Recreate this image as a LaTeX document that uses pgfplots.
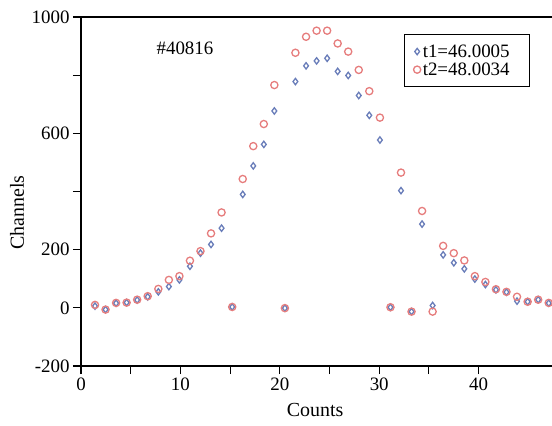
\documentclass[border=0pt]{standalone}
\usepackage{pgfplots}
\pgfplotsset{compat=1.18}
\usepackage{pgfplotstable}
\usepackage{fontspec}
\setmainfont{Liberation Serif}
\definecolor{sblue}{RGB}{105,125,185}
\definecolor{sred}{RGB}{230,125,125}
\pgfplotstableread{
x blue red
1.41 6 10
2.47 -6 -6
3.53 16 17
4.59 18 18
5.65 27 28
6.71 38 40
7.78 55 65
8.84 73 96
9.90 96 109
10.96 143 162
12.02 188 195
13.08 218 256
14.14 274 328
15.21 3 3
16.27 390 443
17.33 488 556
18.39 562 632
19.45 677 766
20.51 -1 -1
21.57 778 877
22.64 832 932
23.70 849 953
24.76 858 953
25.82 813 909
26.88 799 881
27.94 730 818
29.00 662 745
30.07 577 654
31.13 2 2
32.19 403 465
33.25 -13 -13
34.31 288 333
35.37 8 -13
36.43 182 213
37.50 155 188
38.56 134 163
39.62 99 109
40.68 80 89
41.74 62 64
42.80 54 55
43.86 23 38
44.93 21 21
45.99 28 28
47.05 16 17
}\datatable
\begin{document}
\begin{tikzpicture}
\begin{axis}[
  at={(0,0)}, anchor=south west,
  scale only axis,
  width=471bp, height=349bp,
  xmin=0, xmax=47.38,
  ymin=-200, ymax=1000,
  axis x line*=bottom, axis y line*=left,
  axis line style={line width=1.1bp, black},
  tick align=outside,
  major tick length=8bp,
  tick style={line width=1.1bp, black},
  xtick={0,5,...,40},
  xticklabels={0,,10,,20,,30,,40},
  ytick={-200,0,200,400,600,800,1000},
  yticklabels={-200,0,200,{},600,{},1000},
  tick label style={font=\fontsize{19}{22}\selectfont},
  xlabel={Counts},
  ylabel={Channels},
  label style={font=\fontsize{20}{23}\selectfont},
  xlabel style={at={(axis description cs:0.497,-0.126)}, anchor=center},
  ylabel style={at={(axis description cs:-0.136,0.44)}, anchor=center},
  clip=false,
  legend style={at={(rel axis cs:0.686,0.951)}, anchor=north west,
    draw=black, line width=0.9bp, fill=white,
    font=\fontsize{19}{20}\selectfont, inner xsep=9bp, inner ysep=8bp,
    row sep=0bp, text width=96bp},
  legend cell align=left,
]
\addplot[only marks, mark=diamond, mark size=3.2bp, sblue, line width=1.3bp] table[x=x, y=blue] {\datatable};
\addlegendentry{t1=46.0005}
\addplot[only marks, mark=o, mark size=3.6bp, sred, line width=1.3bp] table[x=x, y=red] {\datatable};
\addlegendentry{t2=48.0034}
\draw[line width=1.1bp, black] (rel axis cs:0,1) -- (rel axis cs:1,1);
\node[font=\fontsize{19}{22}\selectfont, anchor=center] at (axis cs:10.46,893) {\#40816};
\end{axis}
\pgfresetboundingbox
\useasboundingbox (-81bp,-60bp) rectangle (471bp,366bp);
\end{tikzpicture}
\end{document}
